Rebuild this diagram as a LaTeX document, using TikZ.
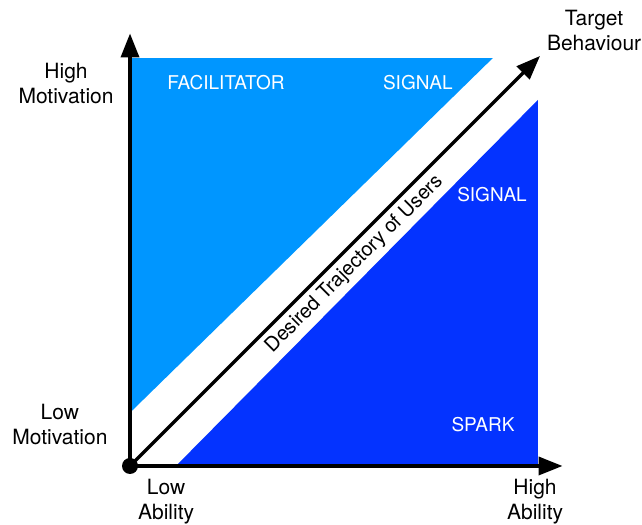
\documentclass[tikz,border=0pt]{standalone}
\usepackage{fontspec}
\setmainfont{TeX Gyre Heros}
\usetikzlibrary{arrows.meta}

\definecolor{aqua}{HTML}{0096FF}
\definecolor{blueberry}{HTML}{0433FF}
\def\upperColor{aqua}
\def\lowerColor{blueberry}

\tikzset{
    axislabel/.style={align=center, font=\fontsize{21}{25}\selectfont},
    zonelabel/.style={text=white, font=\fontsize{19}{23}\selectfont},
    bigarrow/.style={-{Triangle[length=24pt, width=18pt]}, line width=3.6pt}
}

\begin{document}
\begin{tikzpicture}[x=41pt, y=41pt]
    % Define parameters
    \def\xmax{10.55}
    \def\ymax{10.55}
    \def\top{9.95}
    \def\right{9.95}

    \useasboundingbox (-3.171,-1.439) rectangle (12.488,11.366);

    \coordinate (O) at (0,0);
    \coordinate (ytip) at (0,\ymax);
    \coordinate (xtip) at (\xmax,0);
    \coordinate (target) at (10,10);

    % the two zones
    \fill[\upperColor] (0,1.3) -- (0,\top) -- (8.85,\top) -- cycle;
    \fill[\lowerColor] (1.12,0) -- (\right,0) -- (\right,8.93) -- cycle;

    % axes and trajectory
    \draw[bigarrow] (O) -- (ytip);
    \draw[bigarrow] (O) -- (xtip);
    \draw[bigarrow, line width=3.2pt] (O) -- (target)
        node[pos=0.52, below=1.5pt, sloped, font=\fontsize{20}{24}\selectfont] (traj) {Desired Trajectory of Users};
    \fill (O) circle (8pt);

    % axis labels
    \node[axislabel] (highmot) at (-1.56,9.32) {High\\Motivation};
    \node[axislabel] (lowmot) at (-1.71,1.02) {Low\\Motivation};
    \node[axislabel] (lowab) at (0.88,-0.88) {Low\\Ability};
    \node[axislabel] (highab) at (9.88,-0.88) {High\\Ability};
    \node[axislabel] (goal) at (11.32,10.61) {Target\\Behaviour};

    % zone labels
    \node[zonelabel] (facil) at (2.34,9.34) {FACILITATOR};
    \node[zonelabel] (signaltop) at (7.02,9.34) {SIGNAL};
    \node[zonelabel] (signalright) at (8.83,6.61) {SIGNAL};
    \node[zonelabel] (spark) at (8.61,1.0) {SPARK};
\end{tikzpicture}
\end{document}
